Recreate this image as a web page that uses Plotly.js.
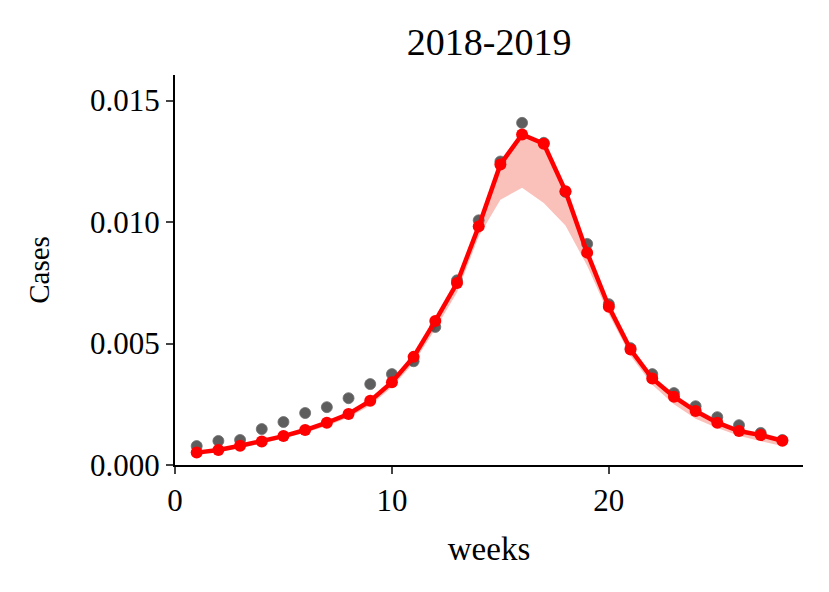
<!DOCTYPE html>
<html>
<head>
<meta charset="utf-8">
<script src="https://cdn.plot.ly/plotly-3.0.1.min.js"></script>
<style>body{margin:0;background:#fff}</style>
</head>
<body>
<div id="chart"></div>
<script>
const weeks = [1,2,3,4,5,6,7,8,9,10,11,12,13,14,15,16,17,18,19,20,21,22,23,24,25,26,27,28];
const observed = [0.00078,0.00099,0.00103,0.00148,0.00177,0.00214,0.00238,0.00275,0.00333,0.00374,0.00427,
  0.00568,0.0076,0.01007,0.01249,0.01408,0.01326,0.01124,0.0091,0.00662,0.00481,0.00374,0.00296,0.00242,
  0.00197,0.00164,0.00132,0.00103];
const fitted = [0.00051,0.00062,0.00079,0.00097,0.00119,0.00144,0.00174,0.0021,0.00264,0.00341,0.00445,
  0.00593,0.00749,0.00982,0.01237,0.0136,0.01322,0.01127,0.00874,0.00651,0.00475,0.00356,0.00281,0.00222,
  0.00174,0.0014,0.00123,0.001];
const bandLow = [0.00045,0.00055,0.0007,0.00088,0.0011,0.00133,0.0016,0.00195,0.00245,0.0032,0.0042,
  0.0056,0.0071,0.0094,0.01092,0.01141,0.01078,0.00986,0.0082,0.0062,0.0045,0.0033,0.0025,0.0019,
  0.00152,0.0012,0.00098,0.00078];
const bandHigh = [0.00053,0.00064,0.00081,0.001,0.00122,0.00147,0.00178,0.00214,0.00269,0.00347,0.00452,
  0.006,0.00757,0.0099,0.01245,0.01365,0.01326,0.01132,0.00879,0.00655,0.00478,0.00358,0.00283,0.00224,
  0.00176,0.00142,0.00124,0.00101];

const serif = "Liberation Serif, Times New Roman, serif";

const data = [
  {x: weeks, y: bandLow, mode: "lines", line: {width: 0}, hoverinfo: "skip", showlegend: false},
  {x: weeks, y: bandHigh, mode: "lines", line: {width: 0}, fill: "tonexty",
   fillcolor: "rgba(246,150,140,0.6)", hoverinfo: "skip", showlegend: false},
  {x: weeks, y: observed, mode: "markers", marker: {size: 11, color: "rgba(40,40,40,0.75)",
   line: {width: 1, color: "rgba(110,110,110,0.8)"}}, showlegend: false},
  {x: weeks, y: fitted, mode: "lines+markers", line: {color: "#ff0000", width: 4.5},
   marker: {size: 12, color: "#ff0000"}, showlegend: false}
];

const layout = {
  width: 829, height: 592,
  margin: {l: 175, r: 26, t: 75, b: 127},
  paper_bgcolor: "#fff", plot_bgcolor: "#fff",
  font: {family: serif, color: "#000", size: 31},
  title: {text: "2018-2019", font: {family: serif, size: 38}, x: 0.59, xanchor: "center", y: 0.93, yanchor: "middle"},
  xaxis: {
    range: [0, 28.95], tickvals: [0, 10, 20], ticks: "outside", ticklen: 7, tickwidth: 2,
    showline: true, linewidth: 2, linecolor: "#000", showgrid: false, zeroline: false,
    title: {text: "weeks", font: {size: 33}, standoff: 20}
  },
  yaxis: {
    range: [0, 0.01605], tickvals: [0, 0.005, 0.01, 0.015], ticktext: ["0.000","0.005","0.010","0.015"],
    ticks: "outside", ticklen: 7, tickwidth: 2,
    showline: true, linewidth: 2, linecolor: "#000", showgrid: false, zeroline: false,
    title: {text: "Cases", font: {size: 29}, standoff: 32}
  }
};

Plotly.newPlot("chart", data, layout, {displayModeBar: false, staticPlot: true});
</script>
</body>
</html>
